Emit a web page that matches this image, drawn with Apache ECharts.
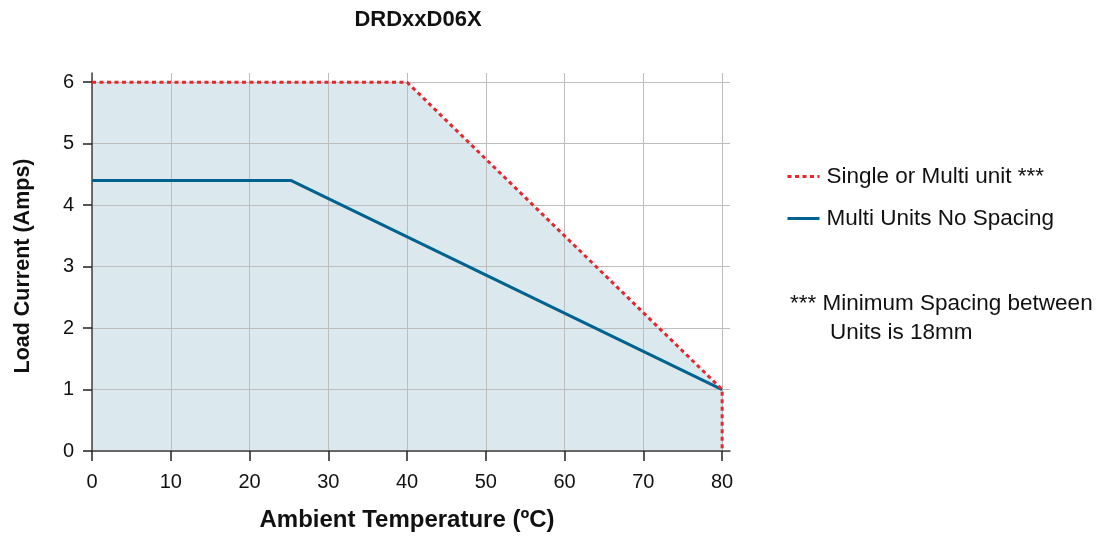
<!DOCTYPE html>
<html>
<head>
<meta charset="utf-8">
<script src="https://cdn.jsdelivr.net/npm/echarts@6/dist/echarts.min.js"></script>
<style>
html,body{margin:0;padding:0;background:#fff;}
#chart{width:1096px;height:537px;}
</style>
</head>
<body>
<div id="chart"></div>
<script>
var FONT = '"Liberation Sans", Arial, sans-serif';
var titleText = 'DRDxxD06X';
var xAxisName = 'Ambient Temperature (ºC)';
var yAxisName = 'Load Current (Amps)';
var singleName = 'Single or Multi unit ***';
var multiName = 'Multi Units No Spacing';
var noteLines = ['*** Minimum Spacing between', 'Units is 18mm'];
var xTicks = [0, 10, 20, 30, 40, 50, 60, 70, 80];
var yTicks = [0, 1, 2, 3, 4, 5, 6];
// [temperature, current]
var singleData = [[0, 6], [40, 6], [80, 1], [80, 0]];
var multiData = [[0, 4.4], [25.3, 4.4], [80, 1]];

var chart = echarts.init(document.getElementById('chart'));
chart.setOption({
  animation: false,
  backgroundColor: '#fff',
  title: {
    text: titleText,
    left: 413,
    textAlign: 'center',
    top: 4,
    textStyle: {fontFamily: FONT, fontWeight: 'bold', fontSize: 22, color: '#111'}
  },
  grid: {left: 92, right: 366, top: 73, bottom: 84},
  xAxis: {
    type: 'value', min: 0, max: 81,
    name: xAxisName, nameLocation: 'middle', nameGap: 57, nameMoveOverlap: false,
    nameTextStyle: {fontFamily: FONT, fontWeight: 'bold', fontSize: 24, color: '#111', padding: [0, 8, 0, 0]},
    axisLine: {show: true, onZero: false, lineStyle: {color: '#444', width: 1.5}},
    axisTick: {show: true, length: 10, customValues: xTicks, lineStyle: {color: '#222', width: 1.5}},
    axisLabel: {fontFamily: FONT, fontSize: 20, color: '#111', margin: 21, customValues: xTicks},
    splitLine: {show: true, lineStyle: {color: '#bdbdbd', width: 1}}
  },
  yAxis: {
    type: 'value', min: 0, max: 6.15,
    name: yAxisName, nameLocation: 'middle', nameGap: 58, nameMoveOverlap: false,
    nameTextStyle: {fontFamily: FONT, fontWeight: 'bold', fontSize: 21.5, color: '#111', padding: [0, 8, 0, 0]},
    axisLine: {show: true, onZero: false, lineStyle: {color: '#444', width: 1.5}},
    axisTick: {show: true, length: 9, customValues: yTicks, lineStyle: {color: '#222', width: 1.5}},
    axisLabel: {fontFamily: FONT, fontSize: 20, color: '#111', margin: 18, customValues: yTicks},
    splitLine: {show: true, lineStyle: {color: '#bdbdbd', width: 1}}
  },
  legend: {
    orient: 'vertical', left: 781, top: 160, itemGap: 19,
    itemWidth: 32, itemHeight: 14,
    itemStyle: {opacity: 0},
    lineStyle: {width: 3},
    textStyle: {fontFamily: FONT, fontSize: 22.5, color: '#111', padding: [0, 0, 0, 2]},
    data: [singleName, multiName]
  },
  graphic: [
    {type: 'text', left: 790, top: 292, style: {text: noteLines[0], fontFamily: FONT, fontSize: 22.5, fill: '#111'}},
    {type: 'text', left: 830, top: 321, style: {text: noteLines[1], fontFamily: FONT, fontSize: 22.5, fill: '#111'}}
  ],
  series: [
    {
      name: 'area', type: 'line', data: singleData, symbol: 'none', z: -1, silent: true,
      lineStyle: {width: 0, opacity: 0},
      areaStyle: {color: '#dbe8ee', opacity: 1}
    },
    {
      name: multiName, type: 'line', data: multiData, symbol: 'none', z: 3,
      lineStyle: {color: '#00628f', width: 3},
      itemStyle: {color: '#00628f'}
    },
    {
      name: singleName, type: 'line', data: singleData, symbol: 'none', z: 4,
      lineStyle: {color: '#e8262d', width: 3, type: [4, 3.5]},
      itemStyle: {color: '#e8262d'}
    }
  ]
});
</script>
</body>
</html>
